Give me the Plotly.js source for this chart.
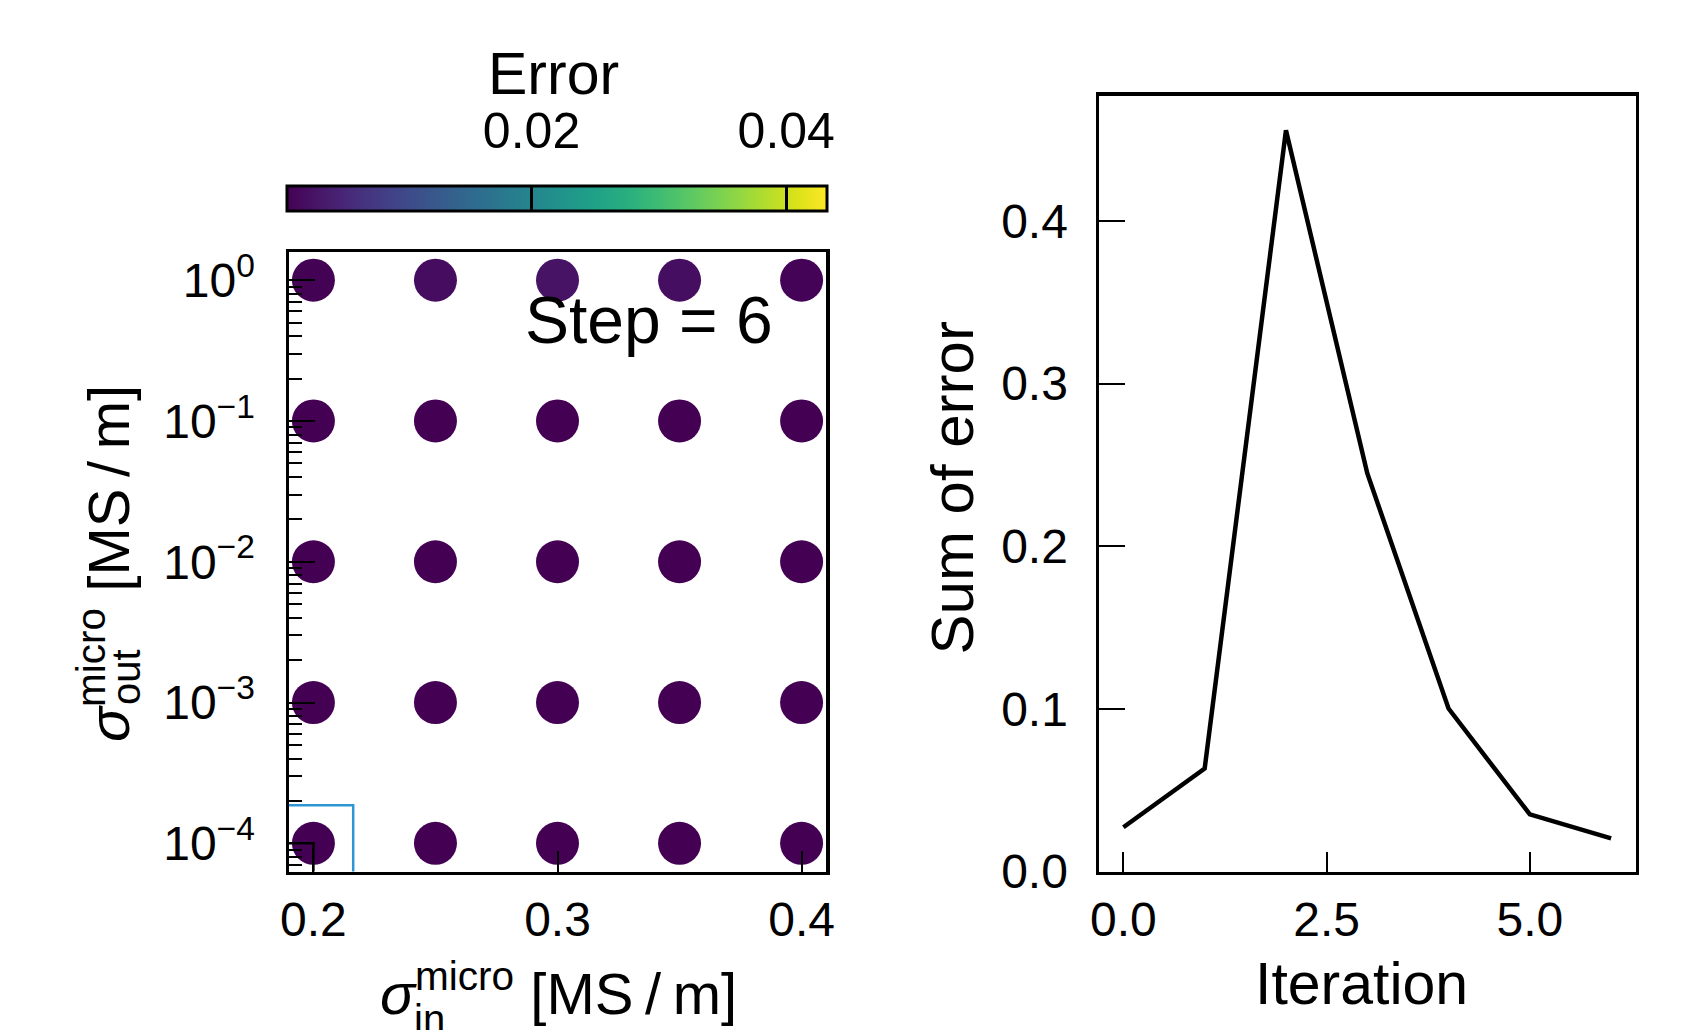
<!DOCTYPE html>
<html>
<head>
<meta charset="utf-8">
<script src="https://cdn.plot.ly/plotly-3.0.1.min.js"></script>
<style>
html, body { margin: 0; padding: 0; background: #ffffff; }
#chart { width: 1687px; height: 1030px; }
</style>
</head>
<body>
<div id="chart"></div>
<script>
// ---------------- data ----------------
const sigmaIn = [0.2, 0.25, 0.3, 0.35, 0.4];                 // MS/m (x of left panel)
const sigmaOut = [1, 0.1, 0.01, 0.001, 0.0001];              // MS/m (y of left panel)
// error at every grid point, one row per sigmaOut value, columns follow sigmaIn
const errorAtOut1e0 = [0.0009, 0.0021, 0.0029, 0.0023, 0.0010];
const errorAtOut1e1 = [0.0008, 0.0008, 0.0008, 0.0008, 0.0008];
const errorAtOut1e2 = [0.0008, 0.0008, 0.0008, 0.0008, 0.0008];
const errorAtOut1e3 = [0.0008, 0.0008, 0.0008, 0.0008, 0.0008];
const errorAtOut1e4 = [0.0008, 0.0008, 0.0008, 0.0008, 0.0008];
const errorRange = [0.0008, 0.0432];
const colorbarTicks = [0.02, 0.04];

// highlighted regions around the best grid point
const bestBoxX = [0.18, 0.2, 0.2, 0.18, 0.18];
const bestBoxY = [0.00001, 0.00001, 0.0001, 0.0001, 0.00001];
const searchBoxX = [0.1837, 0.2163, 0.2163, 0.1837, 0.1837];
const searchBoxY = [0.0000537, 0.0000537, 0.0001862, 0.0001862, 0.0000537];

const xTicksLeft = [0.2, 0.3, 0.4];
const yTicksLeft = [1, 0.1, 0.01, 0.001, 0.0001];
const yTickTextLeft = ['10<sup>0</sup>', '10<sup>\u22121</sup>', '10<sup>\u22122</sup>', '10<sup>\u22123</sup>', '10<sup>\u22124</sup>'];

const iterations = [0, 1, 2, 3, 4, 5, 6];
const sumOfError = [0.0272, 0.0633, 0.4557, 0.2449, 0.1002, 0.0351, 0.0204];

// ---------------- build ----------------
const errorRows = [errorAtOut1e0, errorAtOut1e1, errorAtOut1e2, errorAtOut1e3, errorAtOut1e4];
const gx = [], gy = [], gc = [];
sigmaOut.forEach((so, r) => {
  sigmaIn.forEach((si, c) => { gx.push(si); gy.push(so); gc.push(errorRows[r][c]); });
});

const W = 1687, H = 1030;
const px = v => v / W;
const py = v => 1 - v / H;
const FONT = 'Liberation Sans, Arial, Helvetica, sans-serif';
const UNIT = '[MS\u2009/\u2009m]';

const traces = [
  {
    type: 'scatter', mode: 'markers', x: gx, y: gy, xaxis: 'x', yaxis: 'y',
    marker: {
      size: 43, color: gc, colorscale: 'Viridis', cmin: errorRange[0], cmax: errorRange[1],
      line: { width: 0 },
      showscale: true,
      colorbar: {
        orientation: 'h', xref: 'paper', yref: 'paper',
        x: px(557), xanchor: 'center', y: py(239), yanchor: 'bottom',
        lenmode: 'pixels', len: 540, thicknessmode: 'pixels', thickness: 25,
        xpad: 0, ypad: 0, outlinewidth: 3, outlinecolor: '#000',
        showticklabels: false, tickmode: 'array', tickvals: colorbarTicks,
        ticks: 'inside', ticklen: 25, tickwidth: 2.5, tickcolor: '#000'
      }
    },
    hoverinfo: 'skip', showlegend: false
  },
  {
    type: 'scatter', mode: 'lines', x: searchBoxX, y: searchBoxY, xaxis: 'x', yaxis: 'y',
    line: { color: '#2f96d4', width: 2.5 }, hoverinfo: 'skip', showlegend: false
  },
  {
    type: 'scatter', mode: 'lines', x: bestBoxX, y: bestBoxY, xaxis: 'x', yaxis: 'y',
    line: { color: '#000', width: 2.5 }, hoverinfo: 'skip', showlegend: false
  },
  {
    type: 'scatter', mode: 'lines', x: iterations, y: sumOfError, xaxis: 'x2', yaxis: 'y2',
    line: { color: '#000', width: 4.5 }, hoverinfo: 'skip', showlegend: false
  },
  {
    // carrier for the colour-bar tick-label axis (draws nothing)
    type: 'scatter', mode: 'lines', x: errorRange, y: [0, 0], xaxis: 'x3', yaxis: 'y3',
    line: { color: 'rgba(0,0,0,0)', width: 0 }, opacity: 0, hoverinfo: 'skip', showlegend: false
  }
];

const axisCommon = {
  showline: true, mirror: true, linecolor: '#000', linewidth: 3.5,
  showgrid: false, zeroline: false, ticks: 'inside', tickwidth: 2, tickcolor: '#000',
  tickfont: { family: FONT, size: 48, color: '#000' }, fixedrange: true
};

const layout = {
  width: W, height: H,
  margin: { l: 0, r: 0, t: 0, b: 0, pad: 0 },
  paper_bgcolor: '#fff', plot_bgcolor: '#fff',
  font: { family: FONT, color: '#000' },
  showlegend: false, hovermode: false,
  xaxis: Object.assign({}, axisCommon, {
    domain: [px(289), px(826)], range: [0.19, 0.41], anchor: 'y',
    tickmode: 'array', tickvals: xTicksLeft, tickformat: '.1f', ticklen: 21, ticklabelstandoff: 3
  }),
  yaxis: Object.assign({}, axisCommon, {
    domain: [py(871.5), py(252)], type: 'log', range: [-4.2, 0.2], anchor: 'x',
    tickmode: 'array', tickvals: yTicksLeft, ticktext: yTickTextLeft, ticklen: 26, ticklabelstandoff: 21,
    minor: { ticks: 'inside', ticklen: 13, tickwidth: 2, tickcolor: '#000', dtick: 'D1' }
  }),
  xaxis2: Object.assign({}, axisCommon, {
    domain: [px(1099), px(1635.5)], range: [-0.3, 6.3], anchor: 'y2',
    tickmode: 'linear', tick0: 0, dtick: 2.5, tickformat: '.1f', ticklen: 20, ticklabelstandoff: 3
  }),
  yaxis2: Object.assign({}, axisCommon, {
    domain: [py(871.5), py(95.7)], range: [0, 0.477], anchor: 'x2',
    tickmode: 'linear', tick0: 0, dtick: 0.1, tickformat: '.1f', ticklen: 26, ticklabelstandoff: 18
  }),
  xaxis3: {
    domain: [px(287), px(827)], range: errorRange, anchor: 'y3', side: 'top',
    tickmode: 'array', tickvals: colorbarTicks, tickformat: '.2f', ticks: '',
    showline: false, showgrid: false, zeroline: false, fixedrange: true,
    tickfont: { family: FONT, size: 50, color: '#000' }, ticklabelstandoff: 25
  },
  yaxis3: { domain: [py(211), py(184)], anchor: 'x3', range: [-1, 1], visible: false, fixedrange: true },
  annotations: [
    { text: 'Error', xref: 'paper', yref: 'paper', x: px(553), y: py(108), xanchor: 'center', yanchor: 'bottom',
      borderpad: 0, showarrow: false, font: { family: FONT, size: 59, color: '#000' } },
    { text: 'Step = 6', xref: 'paper', yref: 'paper', x: px(649), y: py(359), xanchor: 'center', yanchor: 'bottom',
      showarrow: false, font: { family: FONT, size: 66, color: '#000' } },
    { text: '<i>σ</i><sup>micro</sup> ' + UNIT, xref: 'paper', yref: 'paper', x: px(378), y: py(1028), xanchor: 'left', yanchor: 'bottom',
      showarrow: false, font: { family: FONT, size: 58, color: '#000' } },
    { text: 'in', xref: 'paper', yref: 'paper', x: px(412), y: py(1043), xanchor: 'left', yanchor: 'bottom',
      showarrow: false, font: { family: FONT, size: 40, color: '#000' } },
    { text: '<i>σ</i><sup>micro</sup> ' + UNIT, xref: 'paper', yref: 'paper', x: px(143), y: py(744), xanchor: 'right', yanchor: 'bottom',
      textangle: -90, showarrow: false, font: { family: FONT, size: 58, color: '#000' } },
    { text: 'out', xref: 'paper', yref: 'paper', x: px(150), y: py(707), xanchor: 'right', yanchor: 'bottom',
      textangle: -90, showarrow: false, font: { family: FONT, size: 40, color: '#000' } },
    { text: 'Sum of error', xref: 'paper', yref: 'paper', x: px(988), y: py(488), xanchor: 'right', yanchor: 'middle',
      textangle: -90, showarrow: false, font: { family: FONT, size: 60, color: '#000' } },
    { text: 'Iteration', xref: 'paper', yref: 'paper', x: px(1361), y: py(1019), xanchor: 'center', yanchor: 'bottom',
      showarrow: false, font: { family: FONT, size: 59, color: '#000' } }
  ]
};

Plotly.newPlot('chart', traces, layout, { displayModeBar: false, staticPlot: true });
</script>
</body>
</html>
